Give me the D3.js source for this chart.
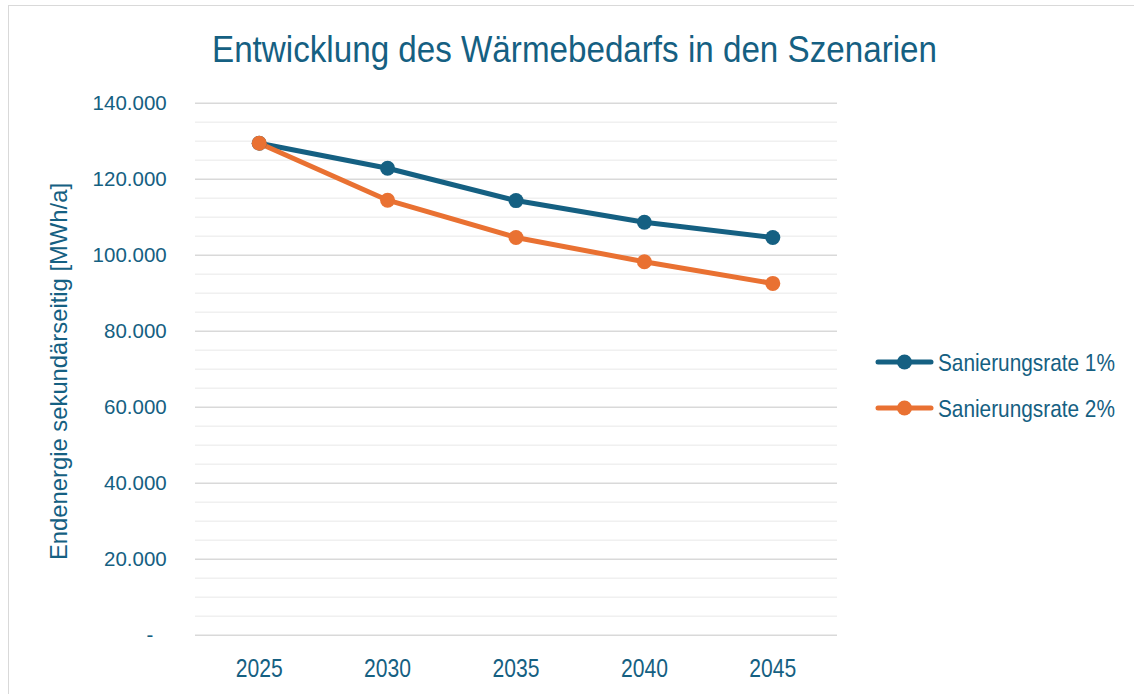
<!DOCTYPE html>
<html><head><meta charset="utf-8">
<script src="https://cdn.jsdelivr.net/npm/d3@7"></script>
<style>
html,body{margin:0;padding:0;background:#fff;}
svg text{font-family:"Liberation Sans",Arial,sans-serif;}
</style></head>
<body>
<svg id="chart" width="1134" height="694"></svg>
<script>
const years = ["2025","2030","2035","2040","2045"];
const seriesNames = ["Sanierungsrate 1%","Sanierungsrate 2%"];
const rate1 = [129500,122900,114400,108700,104700];
const rate2 = [129500,114500,104700,98300,92600];
const majorTicks = [0,20000,40000,60000,80000,100000,120000,140000];
const minorTicks = d3.range(0,140001,5000);
const title = "Entwicklung des Wärmebedarfs in den Szenarien";
const yTitle = "Endenergie sekundärseitig [MWh/a]";

const colors = ["#156082","#E97132"];
const textColor = "#156082";
const svg = d3.select("#chart");

svg.append("rect").attr("x",8.5).attr("y",5.5).attr("width",1134).attr("height",700)
  .attr("fill","#fff").attr("stroke","#d9d9d9").attr("stroke-width",1);

const m = {left:195,right:837,top:103.3,bottom:635.3};
const x = d3.scaleBand().domain(years).range([m.left,m.right]);
const y = d3.scaleLinear().domain([0,140000]).range([m.bottom,m.top]);

// minor grid
svg.append("g").selectAll("line").data(minorTicks.filter(v=>v%20000!==0)).join("line")
  .attr("x1",m.left).attr("x2",m.right).attr("y1",d=>y(d)).attr("y2",d=>y(d))
  .attr("stroke","#f0f0f0").attr("stroke-width",1.5);
// major grid
svg.append("g").selectAll("line").data(majorTicks).join("line")
  .attr("x1",m.left).attr("x2",m.right).attr("y1",d=>y(d)).attr("y2",d=>y(d))
  .attr("stroke","#d9d9d9").attr("stroke-width",1.5);

// y axis labels
const fmt = d => d===0 ? "-" : d3.format(",")(d).replace(/,/g,".");
const yAxis = svg.append("g").attr("transform",`translate(${m.left},0)`)
  .call(d3.axisLeft(y).tickValues(majorTicks).tickFormat(fmt).tickSize(0).tickPadding(28.3));
yAxis.select(".domain").remove();
yAxis.selectAll("text").attr("fill",textColor).attr("font-size",20.5)
  .attr("font-family",null)
  .attr("dx",d=>d===0?-13.4:0);

// x axis labels
const xAxis = svg.append("g").attr("transform",`translate(0,${m.bottom})`)
  .call(d3.axisBottom(x).tickSize(0).tickPadding(0));
xAxis.select(".domain").remove();
xAxis.selectAll("text").attr("fill",textColor).attr("font-size",25).attr("font-family",null)
  .attr("dy",null).attr("y",41.4)
  .attr("textLength",47).attr("lengthAdjust","spacingAndGlyphs");

// lines
const data = [rate1, rate2];
const line = d3.line().x((d,i)=>x(years[i])+x.bandwidth()/2).y(d=>y(d));
data.forEach((s,k)=>{
  svg.append("path").datum(s).attr("d",line).attr("fill","none")
    .attr("stroke",colors[k]).attr("stroke-width",5).attr("stroke-linejoin","round").attr("stroke-linecap","round");
});
data.forEach((s,k)=>{
  svg.append("g").selectAll("circle").data(s).join("circle")
    .attr("cx",(d,i)=>x(years[i])+x.bandwidth()/2).attr("cy",d=>y(d)).attr("r",7.5)
    .attr("fill",colors[k]);
});

// title
svg.append("text").attr("x",574.5).attr("y",62).attr("text-anchor","middle")
  .attr("fill",textColor).attr("font-size",37.5)
  .attr("textLength",725).attr("lengthAdjust","spacingAndGlyphs").text(title);

// y title
svg.append("text").attr("transform","translate(67,371.5) rotate(-90)").attr("text-anchor","middle")
  .attr("fill",textColor).attr("font-size",24).attr("textLength",377).attr("lengthAdjust","spacingAndGlyphs")
  .text(yTitle);

// legend
const lg = svg.append("g");
seriesNames.forEach((n,k)=>{
  const ly = 362 + k*46;
  lg.append("line").attr("x1",878).attr("x2",931).attr("y1",ly).attr("y2",ly)
    .attr("stroke",colors[k]).attr("stroke-width",5).attr("stroke-linecap","round");
  lg.append("circle").attr("cx",904.5).attr("cy",ly).attr("r",7.5).attr("fill",colors[k]);
  const t = lg.append("text").attr("x",0).attr("y",0).attr("fill",textColor).attr("font-size",24.4).text(n);
  const w = t.node().getComputedTextLength();
  const sx = w > 0 ? 177 / w : 1;
  t.attr("transform",`translate(938,${ly+9}) scale(${sx},1)`);
});
</script>
</body></html>
